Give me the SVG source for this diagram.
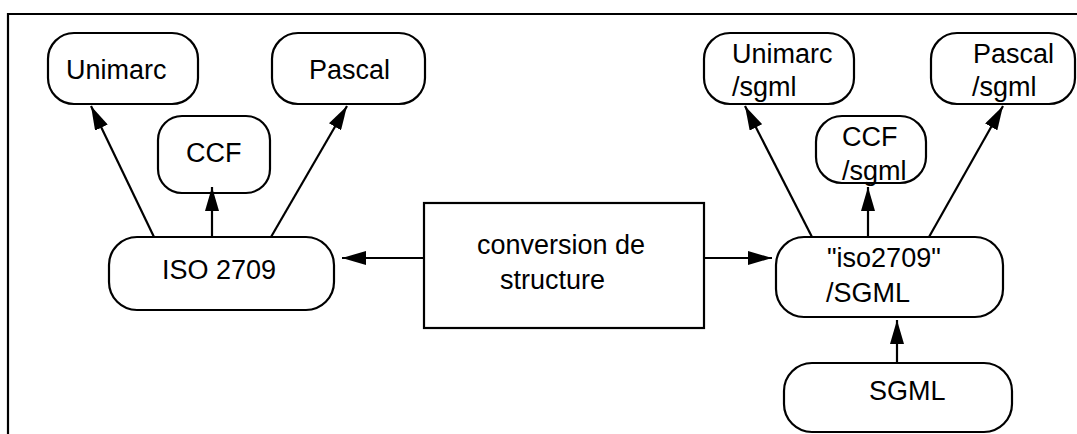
<svg xmlns="http://www.w3.org/2000/svg" width="1077" height="434" viewBox="0 0 1077 434">
<style>
.box{fill:#fff;stroke:#000;stroke-width:2.2}
.t{font-family:"Liberation Sans",Arial,sans-serif;font-size:27px;fill:#000}
.c{stroke:#000;stroke-width:2.2;fill:none}
</style>
<defs>
<marker id="ah" viewBox="0 0 24 14" refX="24" refY="7" markerWidth="24" markerHeight="14" markerUnits="userSpaceOnUse" orient="auto">
<path d="M0,0 L24,7 L0,14 Z" fill="#000"/>
</marker>
</defs>
<rect width="1077" height="434" fill="#fff"/>
<path d="M8,434 V14 H1077" class="c"/>
<g id="unimarc"><rect class="box" x="48" y="33" width="150" height="71" rx="26"/><text class="t" x="66" y="79">Unimarc</text></g>
<g id="ccf"><rect class="box" x="158" y="116" width="112" height="77" rx="24"/><text class="t" x="186" y="162">CCF</text></g>
<g id="pascal"><rect class="box" x="272" y="33" width="153" height="71" rx="26"/><text class="t" x="309" y="79">Pascal</text></g>
<g id="iso2709"><rect class="box" x="109" y="237" width="225" height="73" rx="28"/><text class="t" x="162" y="279">ISO 2709</text></g>
<g id="conversion"><rect class="box" x="424" y="203" width="280" height="125"/><text class="t" x="477" y="254">conversion de</text><text class="t" x="500" y="289">structure</text></g>
<g id="unimarc-sgml"><rect class="box" x="704" y="33" width="150" height="71" rx="26"/><text class="t" x="732" y="63">Unimarc</text><text class="t" x="732" y="96">/sgml</text></g>
<g id="ccf-sgml"><rect class="box" x="816" y="116" width="110" height="67" rx="26"/><text class="t" x="842" y="146">CCF</text><text class="t" x="842" y="180">/sgml</text></g>
<g id="pascal-sgml"><rect class="box" x="931" y="33" width="144" height="71" rx="26"/><text class="t" x="973" y="63">Pascal</text><text class="t" x="972" y="96">/sgml</text></g>
<g id="iso2709-sgml"><rect class="box" x="776" y="237" width="227" height="80" rx="28"/><text class="t" x="827" y="267">"iso2709"</text><text class="t" x="826" y="302">/SGML</text></g>
<g id="sgml"><rect class="box" x="784" y="363" width="228" height="69" rx="28"/><text class="t" x="869" y="400">SGML</text></g>
<g id="connectors">
<line class="c" x1="154" y1="237" x2="91" y2="106" marker-end="url(#ah)"/>
<line class="c" x1="212" y1="237" x2="212" y2="187" marker-end="url(#ah)"/>
<line class="c" x1="271" y1="237" x2="347" y2="106" marker-end="url(#ah)"/>
<line class="c" x1="424" y1="258" x2="342" y2="258" marker-end="url(#ah)"/>
<line class="c" x1="704" y1="258" x2="772" y2="258" marker-end="url(#ah)"/>
<line class="c" x1="812" y1="237" x2="745" y2="106" marker-end="url(#ah)"/>
<line class="c" x1="868" y1="237" x2="868" y2="187" marker-end="url(#ah)"/>
<line class="c" x1="929" y1="237" x2="1003" y2="106" marker-end="url(#ah)"/>
<line class="c" x1="897" y1="363" x2="897" y2="320" marker-end="url(#ah)"/>
</g>
</svg>
